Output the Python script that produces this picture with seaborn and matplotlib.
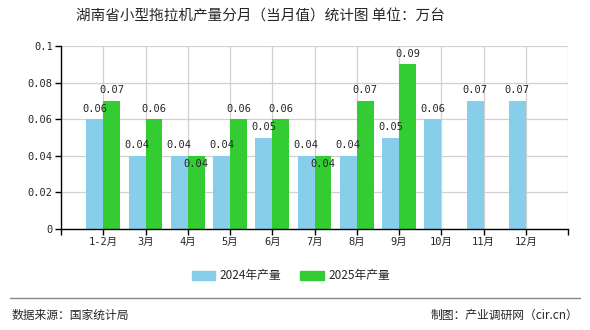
import matplotlib
matplotlib.use("Agg")
import matplotlib.pyplot as plt
import seaborn as sns
import pandas as pd
import numpy as np
from matplotlib.lines import Line2D

months = ["1-2月", "3月", "4月", "5月", "6月", "7月", "8月", "9月", "10月", "11月", "12月"]
vals_2024 = [0.06, 0.04, 0.04, 0.04, 0.05, 0.04, 0.04, 0.05, 0.06, 0.07, 0.07]
vals_2025 = [0.07, 0.06, 0.04, 0.06, 0.06, 0.04, 0.07, 0.09, None, None, None]
series = ["2024年产量", "2025年产量"]
colors = ["#87CEEB", "#33CC33"]
yticks = [0, 0.02, 0.04, 0.06, 0.08, 0.1]
ytick_labels = ["0", "0.02", "0.04", "0.06", "0.08", "0.1"]

sns.set_theme(style="white")
plt.rcParams['font.family'] = ['Noto Sans CJK SC', 'DejaVu Sans']
MONO = ['DejaVu Sans Mono', 'Noto Sans CJK SC']

rows = []
for m, a, b in zip(months, vals_2024, vals_2025):
    rows.append({"月份": m, "系列": series[0], "产量": a})
    rows.append({"月份": m, "系列": series[1], "产量": np.nan if b is None else b})
df = pd.DataFrame(rows)

fig = plt.figure(figsize=(5.9, 3.3), dpi=100)
ax = fig.add_axes([61/590, 1-229/330, (568-61)/590, (229-46)/330])

sns.barplot(data=df, x="月份", y="产量", hue="系列", order=months, hue_order=series,
            palette=colors, width=0.8, saturation=1, ax=ax, legend=False, errorbar=None,
            linewidth=0)

ax.set_xlim(-1, 11)
ax.set_ylim(0, 0.1)
ax.set_xticks(range(-1, 12))
ax.set_xticklabels([""] + months + [""], fontsize=7.5, family=MONO)
ax.set_yticks(yticks)
ax.set_yticklabels(ytick_labels, fontsize=7.5, family=MONO)
ax.set_xlabel("")
ax.set_ylabel("")
ax.grid(True, color="#d0d0d0", linewidth=0.9)
ax.set_axisbelow(True)
for s in ["top", "right"]:
    ax.spines[s].set_visible(False)
for s in ["left", "bottom"]:
    ax.spines[s].set_color("black")
    ax.spines[s].set_linewidth(1)
ax.tick_params(axis="both", which="both", length=4, width=1, color="black", direction="out",
               bottom=True, left=True, pad=2)

# value labels
for i, (a, b) in enumerate(zip(vals_2024, vals_2025)):
    ax.text(i - 0.2, a + 0.003, f"{a:.2f}", ha="center", va="bottom", fontsize=7.5,
            family=MONO)
    if b is not None:
        if b == a:
            ax.text(i + 0.2, b - 0.0015, f"{b:.2f}", ha="center", va="top", fontsize=7.5,
                    family=MONO)
        else:
            ax.text(i + 0.2, b + 0.003, f"{b:.2f}", ha="center", va="bottom", fontsize=7.5,
                    family=MONO)

fig.text(260/590, 1-17/330, "湖南省小型拖拉机产量分月（当月值）统计图 单位：万台",
         ha="center", va="center", fontsize=10.5)

handles = [plt.Rectangle((0, 0), 1, 1, color=c) for c in colors]
fig.legend(handles, series, loc="center", bbox_to_anchor=(291/590, 1-276/330), ncol=2,
           frameon=False, fontsize=8.5, handlelength=2.0, handleheight=0.9,
           columnspacing=1.6, handletextpad=0.4)

fig.add_artist(Line2D([10/590, 580/590], [1-298/330, 1-298/330], color="#888888", linewidth=1))
fig.text(12/590, 1-315/330, "数据来源：国家统计局", ha="left", va="center", fontsize=8.5)
fig.text(578/590, 1-315/330, "制图：产业调研网（cir.cn）", ha="right", va="center", fontsize=8.5)

fig.savefig("out.png", dpi=100)
